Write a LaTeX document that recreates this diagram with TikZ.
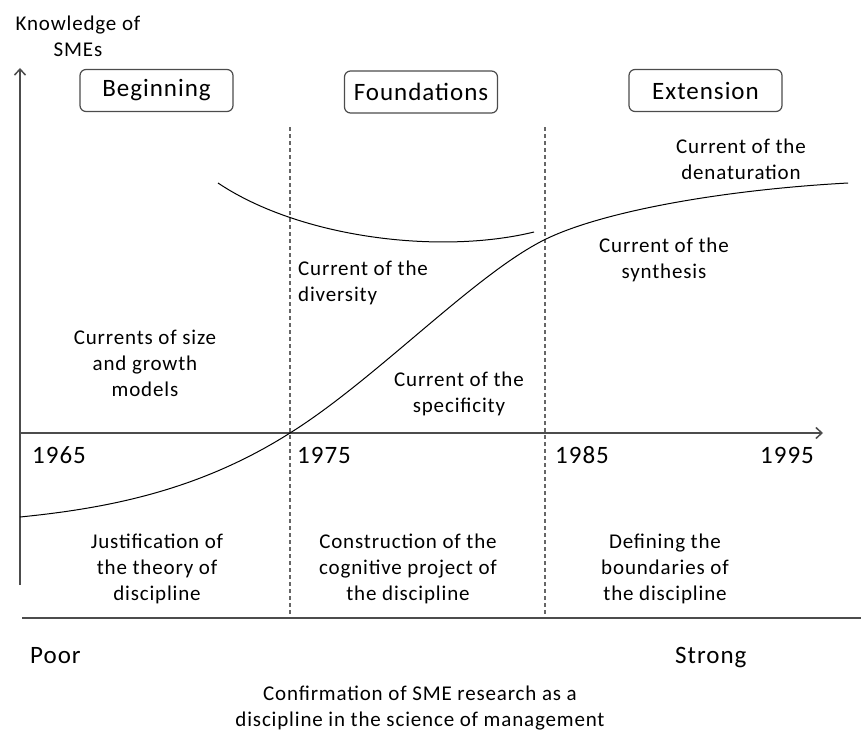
\documentclass[tikz,border=0pt]{standalone}
\usepackage{fontspec}
\setmainfont{Carlito}[LetterSpace=4]
\usetikzlibrary{arrows.meta}
\begin{document}
\begin{tikzpicture}[x=1pt,y=-1pt,
  phase/.style={draw=black!70,line width=1.2pt,rounded corners=6pt,minimum width=153pt,minimum height=42pt,inner sep=0pt,font=\fontsize{25}{30}\selectfont},
  lbl/.style={align=center,inner sep=0pt,font=\fontsize{21}{26}\selectfont},
  big/.style={inner sep=0pt,anchor=base west,font=\fontsize{25}{30}\selectfont},
  axis/.style={draw=black!70,line width=1.5pt,-{Straight Barb[length=6pt,width=11pt]}},
  divider/.style={draw=black!60,line width=1.5pt,dash pattern=on 4pt off 3pt}]
  \useasboundingbox (0,0) rectangle (861,733);
  % Axes
  \coordinate (origin) at (20,433);
  \coordinate (ytop) at (20,68);
  \coordinate (ybot) at (20,585);
  \coordinate (xend) at (823,433);
  \draw[axis] (ybot) -- (ytop);
  \draw[axis] (origin) -- (xend);
  \node[lbl] (knowledge) at (78,36) {Knowledge of\\SMEs};
  % Period dividers
  \coordinate (d1top) at (290,127);
  \coordinate (d1bot) at (290,618);
  \coordinate (d2top) at (545,127);
  \coordinate (d2bot) at (545,618);
  \draw[divider] (d1top) -- (d1bot);
  \draw[divider] (d2top) -- (d2bot);
  % Bottom scale
  \coordinate (scaleL) at (22,618);
  \coordinate (scaleR) at (861,618);
  \draw[draw=black!70,line width=2pt] (scaleL) -- (scaleR);
  % Phases
  \node[phase] (beginning) at (156.5,90.5) {Beginning};
  \node[phase] (foundations) at (421,92) {Foundations};
  \node[phase] (extension) at (705.5,90.5) {Extension};
  % Curves
  \draw[line width=1pt] (20,517) .. controls (110,508) and (200,490) .. (290,433)
    .. controls (375,380) and (474,275) .. (544,240)
    .. controls (600,212) and (720,190) .. (848,183);
  \draw[line width=1pt] (218,183) .. controls (300,238) and (440,255) .. (534,232);
  % Currents
  \node[lbl] (denaturation) at (741,159.5) {Current of the\\denaturation};
  \node[lbl] (synthesis) at (664,259.5) {Current of the\\synthesis};
  \node[lbl,align=left,anchor=west] (diversity) at (298,282.5) {Current of the\\diversity};
  \node[lbl] (sizegrowth) at (145,363) {Currents of size\\and growth\\models};
  \node[lbl] (specificity) at (459,393.5) {Current of the\\specificity};
  % Years
  \node[big] (y1965) at (32,463) {1965};
  \node[big] (y1975) at (297,463) {1975};
  \node[big] (y1985) at (555,463) {1985};
  \node[big] (y1995) at (760,463) {1995};
  % Stages
  \node[lbl] (justification) at (157,569) {Justification of\\the theory of\\discipline};
  \node[lbl] (construction) at (408,569) {Construction of the\\cognitive project of\\the discipline};
  \node[lbl] (boundaries) at (665,569) {Defining the\\boundaries of\\the discipline};
  \node[big] (poor) at (30,663) {Poor};
  \node[big] (strong) at (675,663) {Strong};
  \node[lbl] (confirmation) at (420,708.5) {Confirmation of SME research as a\\discipline in the science of management};
\end{tikzpicture}
\end{document}
